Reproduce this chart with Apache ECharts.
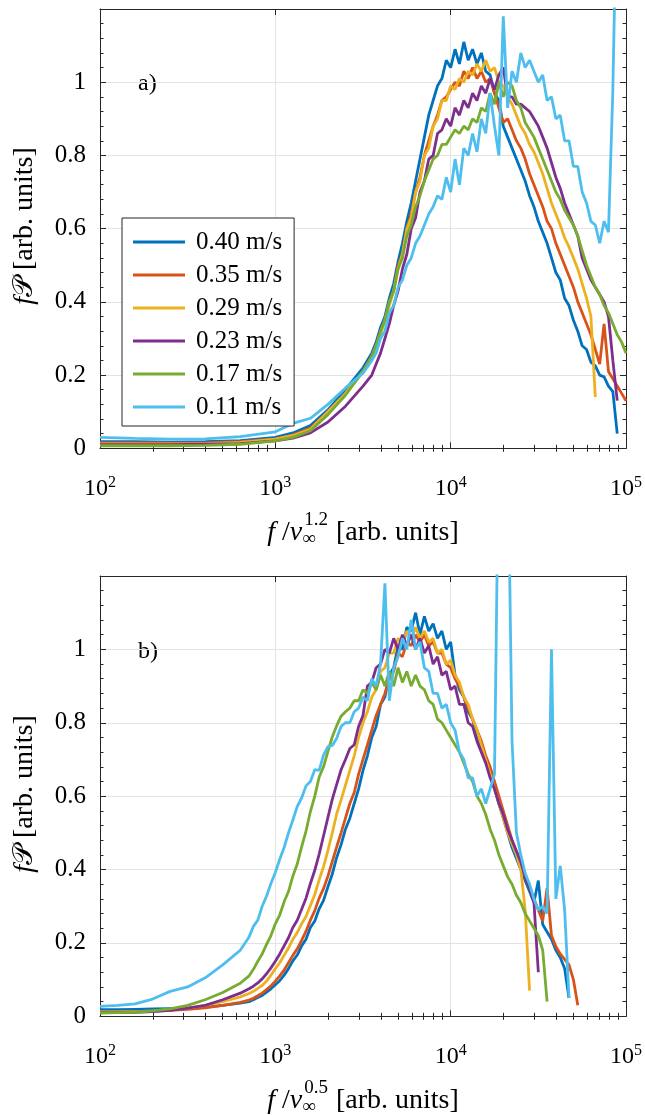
<!DOCTYPE html>
<html><head><meta charset="utf-8">
<script src="https://cdn.jsdelivr.net/npm/echarts@6/dist/echarts.min.js"></script>
<style>html,body{margin:0;padding:0;background:#fff}#c{width:645px;height:1115px}</style>
</head><body><div id="c"></div>
<script>
// ---------- names, colours, tick labels ----------
const seriesNames = ['0.40 m/s','0.35 m/s','0.29 m/s','0.23 m/s','0.17 m/s','0.11 m/s'];
const seriesColors = ['#0072BD','#D95319','#EDB120','#7E2F8E','#77AC30','#4DBEEE'];
const xTickExponents = ['2','3','4','5'];
const yTickLabels = ['0','0.2','0.4','0.6','0.8','1'];
const panelLabels = ['a)','b)'];
const xTitleExponents = ['1.2','0.5'];

// ---------- panel a: log10 of f / v^1.2 ----------
const logFa = [2.0,2.2,2.4,2.6,2.8,3.0,3.1,3.2,3.3,3.4,3.5,
 3.55,3.575,3.6,3.625,3.65,3.675,3.7,3.725,3.75,3.775,3.8,3.825,3.85,3.875,3.9,3.925,3.95,3.975,4.0,
 4.025,4.05,4.075,4.1,4.125,4.15,4.175,4.2,4.225,4.25,4.275,4.3,4.325,4.35,4.375,4.4,4.425,4.45,4.475,4.5,
 4.525,4.55,4.575,4.6,4.625,4.65,4.675,4.7,4.725,4.75,4.775,4.8,4.825,4.85,4.875,4.9,4.925,4.95,4.975,5.0];
const a040 = [0.018,0.018,0.017,0.018,0.021,0.030,0.042,0.062,0.105,0.160,0.220,
 0.26,0.29,0.33,0.36,0.41,0.45,0.51,0.56,0.62,0.67,0.73,0.79,0.85,0.91,0.95,0.99,1.01,1.06,1.04,
 1.09,1.05,1.11,1.06,1.09,1.05,1.08,1.03,1.02,0.97,0.95,0.88,0.85,0.82,0.79,0.76,0.73,0.69,0.66,0.62,
 0.59,0.56,0.52,0.48,0.46,0.41,0.39,0.35,0.32,0.28,0.27,0.235,0.225,0.20,0.195,0.17,0.155,0.04,null,null];
const a035 = [0.015,0.015,0.014,0.015,0.018,0.026,0.036,0.055,0.100,0.150,0.210,
 0.25,0.28,0.32,0.35,0.40,0.43,0.50,0.53,0.60,0.64,0.70,0.74,0.80,0.84,0.88,0.91,0.95,0.96,0.98,
 1.00,0.99,1.03,1.01,1.04,1.01,1.03,1.00,1.01,0.97,0.93,0.89,0.90,0.87,0.84,0.82,0.79,0.75,0.72,0.69,
 0.66,0.62,0.60,0.56,0.53,0.50,0.47,0.44,0.40,0.37,0.34,0.31,0.27,0.23,0.34,0.21,0.19,0.17,0.15,0.13];
const a029 = [0.012,0.012,0.012,0.013,0.016,0.025,0.035,0.052,0.100,0.150,0.210,
 0.25,0.28,0.31,0.35,0.39,0.43,0.49,0.53,0.60,0.63,0.70,0.73,0.80,0.82,0.88,0.90,0.95,0.95,0.99,
 0.98,1.01,1.00,1.03,1.02,1.05,1.03,1.06,1.03,1.04,1.00,0.99,0.96,0.94,0.91,0.88,0.86,0.83,0.81,0.78,
 0.75,0.71,0.67,0.64,0.61,0.575,0.55,0.52,0.49,0.45,0.41,0.36,0.14,null,null,null,null,null,null,null];
const a023 = [0.010,0.010,0.010,0.011,0.013,0.020,0.028,0.042,0.072,0.115,0.170,
 0.20,0.23,0.26,0.30,0.34,0.39,0.43,0.49,0.53,0.60,0.63,0.70,0.73,0.79,0.80,0.86,0.87,0.90,0.88,
 0.93,0.91,0.95,0.93,0.97,0.95,0.99,0.97,1.01,0.98,1.02,1.04,0.96,0.96,0.94,0.94,0.93,0.92,0.90,0.88,
 0.85,0.82,0.78,0.74,0.71,0.67,0.64,0.61,0.58,0.52,0.49,0.46,0.44,0.42,0.40,0.36,0.24,0.13,null,null];
const a017 = [0.007,0.007,0.007,0.008,0.011,0.020,0.030,0.048,0.092,0.145,0.210,
 0.25,0.28,0.32,0.35,0.40,0.43,0.49,0.52,0.58,0.61,0.66,0.69,0.73,0.76,0.79,0.80,0.83,0.83,0.85,
 0.87,0.86,0.88,0.87,0.90,0.89,0.93,0.92,0.97,0.94,1.00,0.96,1.00,0.99,0.95,0.93,0.89,0.87,0.85,0.82,
 0.79,0.76,0.73,0.70,0.68,0.65,0.63,0.61,0.58,0.54,0.50,0.47,0.44,0.42,0.39,0.37,0.34,0.31,0.29,0.26];
const a011 = [0.030,0.027,0.025,0.026,0.032,0.045,0.068,0.082,0.120,0.165,0.205,
 0.24,0.26,0.30,0.32,0.37,0.39,0.44,0.46,0.50,0.52,0.56,0.58,0.61,0.64,0.66,0.69,0.68,0.74,0.70,
 0.79,0.72,0.82,0.80,0.86,0.81,0.90,0.86,0.97,0.88,0.80,1.18,0.93,1.03,1.00,1.08,1.04,1.06,1.03,1.00,
 1.02,0.95,0.96,0.90,0.91,0.84,0.84,0.77,0.77,0.70,0.67,0.62,0.61,0.56,0.62,0.59,0.98,1.6,null,null];

// ---------- panel b: log10 of f / v^0.5 ----------
const logFb = [2.0,2.1,2.2,2.3,2.4,2.5,2.6,2.7,2.8,
 2.85,2.875,2.9,2.925,2.95,2.975,3.0,3.025,3.05,3.075,3.1,3.125,3.15,3.175,3.2,3.225,3.25,3.275,3.3,3.325,3.35,3.375,
 3.4,3.425,3.45,3.475,3.5,3.525,3.55,3.575,3.6,3.625,3.65,3.675,3.7,3.725,3.75,3.775,3.8,3.825,3.85,3.875,
 3.9,3.925,3.95,3.975,4.0,4.025,4.05,4.075,4.1,4.125,4.15,4.175,4.2,4.225,4.25,4.275,4.3,4.325,4.35,4.375,
 4.4,4.425,4.45,4.475,4.5,4.525,4.55,4.575,4.6,4.625,4.65,4.675,4.7,4.725,4.75];
const b040 = [0.018,0.018,0.019,0.020,0.021,0.022,0.025,0.030,0.036,
 0.040,0.045,0.051,0.057,0.066,0.075,0.086,0.097,0.112,0.130,0.151,0.167,0.192,0.210,0.242,0.260,0.293,0.316,0.353,0.388,0.433,0.468,
 0.51,0.54,0.58,0.62,0.67,0.71,0.76,0.79,0.85,0.87,0.93,0.95,1.01,1.00,1.06,1.05,1.10,1.04,1.09,1.05,
 1.07,1.03,1.05,1.00,1.02,0.93,0.89,0.87,0.83,0.81,0.76,0.73,0.70,0.66,0.62,0.58,0.54,0.50,0.46,0.43,
 0.40,0.37,0.34,0.31,0.37,0.25,0.23,0.21,0.18,0.16,0.13,0.05,null,null,null];
const b035 = [0.012,0.012,0.013,0.014,0.016,0.019,0.023,0.030,0.038,
 0.044,0.049,0.056,0.063,0.073,0.083,0.096,0.110,0.126,0.146,0.166,0.184,0.207,0.232,0.262,0.288,0.322,0.348,0.382,0.422,0.462,0.500,
 0.54,0.58,0.61,0.66,0.70,0.74,0.78,0.82,0.85,0.88,0.92,0.94,0.99,0.98,1.02,1.01,1.04,1.02,1.04,1.01,
 1.02,0.99,0.99,0.96,0.95,0.92,0.90,0.87,0.84,0.81,0.78,0.75,0.71,0.68,0.64,0.60,0.56,0.52,0.48,0.45,
 0.42,0.38,0.35,0.32,0.29,0.26,0.35,0.22,0.19,0.17,0.155,0.14,0.10,0.03,null];
const b029 = [0.012,0.012,0.013,0.015,0.018,0.022,0.030,0.040,0.053,
 0.062,0.068,0.076,0.084,0.096,0.112,0.130,0.146,0.166,0.186,0.210,0.228,0.252,0.272,0.302,0.332,0.372,0.408,0.452,0.500,0.552,0.590,
 0.63,0.67,0.71,0.76,0.80,0.83,0.87,0.89,0.94,0.95,0.99,0.99,1.03,1.02,1.05,1.03,1.06,1.03,1.05,1.02,
 1.03,0.99,1.00,0.96,0.97,0.93,0.91,0.87,0.85,0.81,0.78,0.74,0.70,0.66,0.62,0.58,0.54,0.50,0.47,0.44,
 0.40,0.29,0.07,null,null,null,null,null,null,null,null,null,null,null,null];
const b023 = [0.010,0.010,0.011,0.013,0.016,0.022,0.030,0.045,0.063,
 0.075,0.082,0.091,0.102,0.116,0.132,0.150,0.170,0.192,0.214,0.242,0.262,0.292,0.322,0.362,0.398,0.442,0.492,0.542,0.592,0.632,0.672,
 0.70,0.73,0.74,0.79,0.82,0.90,0.91,0.95,0.96,1.00,0.99,1.03,1.00,1.04,1.01,1.04,1.00,1.03,0.99,1.01,
 0.96,0.98,0.93,0.94,0.89,0.90,0.85,0.85,0.80,0.79,0.75,0.72,0.69,0.65,0.62,0.58,0.55,0.51,0.48,0.45,
 0.42,0.38,0.35,0.31,0.12,null,null,null,null,null,null,null,null,null,null];
const b017 = [0.009,0.010,0.011,0.015,0.020,0.030,0.045,0.065,0.090,
 0.110,0.128,0.150,0.170,0.196,0.220,0.252,0.276,0.312,0.340,0.382,0.415,0.462,0.505,0.558,0.600,0.652,0.680,0.722,0.762,0.792,0.818,
 0.83,0.84,0.86,0.86,0.89,0.88,0.91,0.89,0.93,0.90,0.94,0.90,0.95,0.91,0.94,0.90,0.93,0.90,0.89,0.86,
 0.85,0.81,0.80,0.78,0.76,0.74,0.72,0.69,0.66,0.64,0.60,0.58,0.55,0.51,0.48,0.44,0.41,0.38,0.36,0.33,
 0.31,0.28,0.26,0.24,0.22,0.18,0.04,null,null,null,null,null,null,null,null];
const b011 = [0.027,0.030,0.034,0.047,0.068,0.080,0.105,0.140,0.180,
 0.216,0.245,0.262,0.300,0.328,0.362,0.392,0.428,0.460,0.500,0.535,0.572,0.595,0.628,0.640,0.672,0.670,0.712,0.735,0.738,0.758,0.790,
 0.80,0.80,0.83,0.84,0.87,0.86,0.92,0.90,0.96,1.18,0.86,0.95,0.98,1.03,1.00,1.08,1.00,1.02,0.95,0.94,
 0.88,0.88,0.84,0.85,0.80,0.78,0.72,0.70,0.65,0.65,0.60,0.62,0.58,0.62,0.66,1.6,1.6,1.6,0.75,0.50,
 0.44,0.39,0.36,0.32,0.29,0.30,0.28,1.0,0.32,0.41,0.29,0.05,null,null,null];

const panelX = [logFa, logFb];
const panelY = [[a040,a035,a029,a023,a017,a011],[b040,b035,b029,b023,b017,b011]];

// ---------- styling ----------
const FONT = '"Liberation Serif","Times New Roman",Times,serif';
const INK = '#262626';
const GRIDC = '#e3e3e3';
const grids = [
  {left:100, top:9, width:526, height:439.3},
  {left:100, top:576, width:526, height:440.3}
];
const minorLog = [];
for (let n = 2; n < 5; n++) for (let k = 2; k <= 9; k++) minorLog.push(Math.log10(k * Math.pow(10, n)));

function buildData(xs, ys) {
  const out = [];
  for (let i = 0; i < xs.length; i++) if (ys[i] !== null && ys[i] !== undefined) out.push([Math.pow(10, xs[i]), ys[i]]);
  return out;
}

const xAxis = [], yAxis = [], series = [];
grids.forEach((g, gi) => {
  const line = {show:true, onZero:false, lineStyle:{color:INK, width:1}};
  xAxis.push({gridIndex:gi, type:'log', logBase:10, min:100, max:100000, position:'bottom',
    axisLine:line, axisTick:{show:true, inside:true, length:6, lineStyle:{color:INK}},
    axisLabel:{show:true, margin:26, color:'#000',
      formatter:(v, i) => '{b|10}{s|' + (xTickExponents[i] !== undefined ? xTickExponents[i] : Math.round(Math.log10(v))) + '}',
      rich:{b:{fontFamily:FONT, fontSize:24, lineHeight:28, color:'#000'},
            s:{fontFamily:FONT, fontSize:16, lineHeight:12, verticalAlign:'top', color:'#000'}}},
    splitLine:{show:true, lineStyle:{color:GRIDC, width:1}}});
  xAxis.push({gridIndex:gi, type:'log', logBase:10, min:100, max:100000, position:'top',
    axisLine:line, axisTick:{show:true, inside:true, length:6, lineStyle:{color:INK}},
    axisLabel:{show:false}, splitLine:{show:false}});
  ['bottom','top'].forEach(pos => xAxis.push({gridIndex:gi, type:'value', min:2, max:5, position:pos,
    axisLine:{show:false}, axisTick:{show:true, inside:true, length:3.5, customValues:minorLog, lineStyle:{color:INK}},
    axisLabel:{show:false}, splitLine:{show:false}}));
  yAxis.push({gridIndex:gi, type:'value', min:0, max:1.2, interval:0.2, position:'left',
    axisLine:line, axisTick:{show:true, inside:true, length:6, lineStyle:{color:INK}},
    minorTick:{show:true, splitNumber:5, length:3.5, lineStyle:{color:INK}},
    axisLabel:{show:true, margin:14, color:'#000', fontFamily:FONT, fontSize:25,
      formatter:(v, i) => (yTickLabels[i] !== undefined ? yTickLabels[i] : '')},
    splitLine:{show:true, lineStyle:{color:GRIDC, width:1}}});
  yAxis.push({gridIndex:gi, type:'value', min:0, max:1.2, interval:0.2, position:'right',
    axisLine:line, axisTick:{show:true, inside:true, length:6, lineStyle:{color:INK}},
    minorTick:{show:true, splitNumber:5, length:3.5, lineStyle:{color:INK}},
    axisLabel:{show:false}, splitLine:{show:false}});
  panelY[gi].forEach((ys, si) => series.push({
    name:seriesNames[si], type:'line', xAxisIndex:gi*4, yAxisIndex:gi*2,
    data:buildData(panelX[gi], ys), symbol:'none', showSymbol:false, clip:true,
    lineStyle:{color:seriesColors[si], width:2.8}, itemStyle:{color:seriesColors[si]},
    animation:false, silent:true}));
});

// ---------- text helpers ----------
const mctx = document.createElement('canvas').getContext('2d');
function tw(text, size, italic) { mctx.font = (italic ? 'italic ' : '') + size + 'px ' + FONT; return mctx.measureText(text).width; }

function xTitle(cx, cy, sup) {
  const S = 28, s = 19;
  const w1 = tw('f', S, true) + tw(' /', S, false) + tw('v', S, true);
  const wScript = Math.max(tw('\u221e', s, false), tw(sup, s, false)) + 3;
  const rest = ' [arb. units]';
  const w3 = tw(rest, S, false);
  const x0 = cx - (w1 + wScript + w3) / 2;
  const base = {fontFamily:FONT, fill:'#000', verticalAlign:'middle', align:'left'};
  return [
    {type:'text', x:x0, y:cy, style:Object.assign({}, base, {text:'{i|f} /{i|v}', fontSize:S,
      rich:{i:{fontFamily:FONT, fontSize:S, fontStyle:'italic', fill:'#000'}}})},
    {type:'text', x:x0 + w1, y:cy + 6, style:Object.assign({}, base, {text:'\u221e', fontSize:s})},
    {type:'text', x:x0 + w1 + 2, y:cy - 13, style:Object.assign({}, base, {text:sup, fontSize:s})},
    {type:'text', x:x0 + w1 + wScript, y:cy, style:Object.assign({}, base, {text:rest, fontSize:S})}
  ];
}
function yTitle(cx, cy) {
  return {type:'text', x:cx, y:cy, rotation:Math.PI / 2,
    style:{text:'{i|f}{c|\ud835\udcab} [arb. units]', fontFamily:FONT, fontSize:28, fill:'#000',
      align:'center', verticalAlign:'middle',
      rich:{i:{fontFamily:FONT, fontSize:28, fontStyle:'italic', fill:'#000'},
            c:{fontFamily:FONT, fontSize:28, fill:'#000'}}}};
}

const graphic = [];
graphic.push(yTitle(25, 226));
graphic.push(yTitle(25, 794));
xTitle(363, 533, xTitleExponents[0]).forEach(e => graphic.push(e));
xTitle(363, 1101, xTitleExponents[1]).forEach(e => graphic.push(e));
graphic.push({type:'text', x:138, y:84, style:{text:panelLabels[0], fontFamily:FONT, fontSize:24, fill:'#000', align:'left', verticalAlign:'middle'}});
graphic.push({type:'text', x:138, y:652, style:{text:panelLabels[1], fontFamily:FONT, fontSize:24, fill:'#000', align:'left', verticalAlign:'middle'}});

const chart = echarts.init(document.getElementById('c'), null, {renderer:'canvas'});
chart.setOption({
  animation:false,
  backgroundColor:'#ffffff',
  grid:grids,
  xAxis:xAxis,
  yAxis:yAxis,
  legend:{show:true, data:seriesNames, orient:'vertical', left:122, top:218, icon:'rect',
    itemWidth:52, itemHeight:3, itemGap:7, padding:[11,12,6,11],
    selectedMode:false, backgroundColor:'#fff', borderColor:INK, borderWidth:1, borderRadius:0,
    textStyle:{fontFamily:FONT, fontSize:25, color:'#000', lineHeight:26, padding:[0,0,0,6]}},
  graphic:graphic,
  series:series
});
</script></body></html>
